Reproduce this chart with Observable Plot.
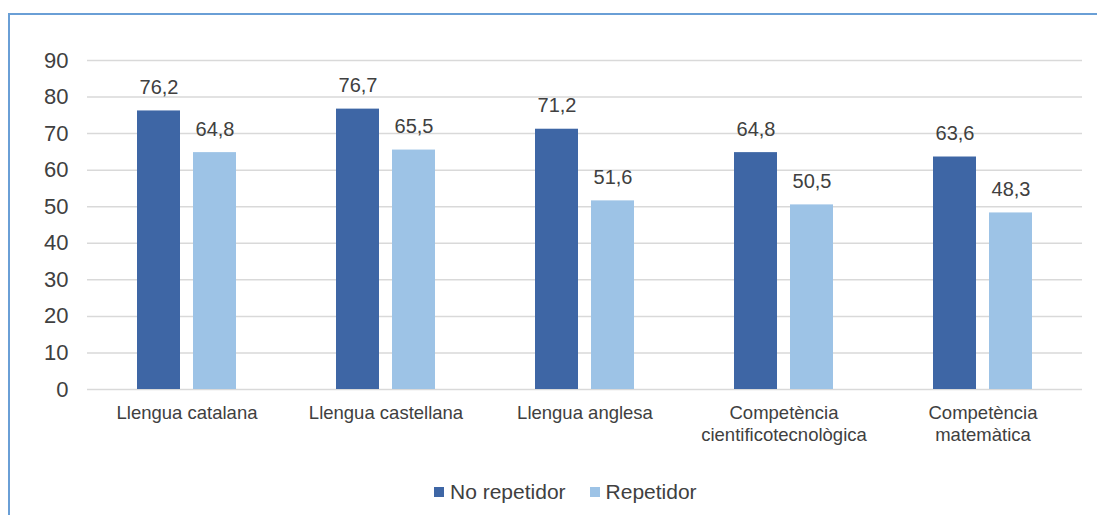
<!DOCTYPE html>
<html>
<head>
<meta charset="utf-8">
<script src="https://cdn.jsdelivr.net/npm/d3@7"></script>
<script src="https://cdn.jsdelivr.net/npm/@observablehq/plot@0.6"></script>
<style>
  html, body { margin: 0; padding: 0; background: #fff; }
  body { width: 1097px; height: 515px; overflow: hidden; position: relative; font-family: "Liberation Sans", Arial, sans-serif; }
  #frame { position: absolute; left: 8px; top: 13px; right: -4px; bottom: -4px; border-left: 2px solid #6a9fd6; border-top: 2px solid #6a9fd6; }
  #chart { position: absolute; left: 0; top: 0; }
  #legend { position: absolute; left: 424px; top: 465px; display: flex; align-items: center; font-size: 21px; color: #404040; white-space: nowrap; }
  .item { display: flex; align-items: center; margin-right: 24px; }
  .sw { width: 10px; height: 10px; margin-right: 6px; }
</style>
</head>
<body>
<div id="frame">
  <div id="chart"></div>
  <div id="legend"></div>
</div>
<script>
const categories = ["Llengua catalana", "Llengua castellana", "Llengua anglesa", "Competència cientificotecnològica", "Competència matemàtica"];
const categoryLabels = ["Llengua catalana", "Llengua castellana", "Llengua anglesa", "Competència\ncientificotecnològica", "Competència\nmatemàtica"];
const series = ["No repetidor", "Repetidor"];
const noRepetidor = [76.2, 76.7, 71.2, 64.8, 63.6];
const repetidor = [64.8, 65.5, 51.6, 50.5, 48.3];
const colors = ["#3e66a5", "#9dc3e6"];
const yTicks = [0, 10, 20, 30, 40, 50, 60, 70, 80, 90];

const data = [];
categories.forEach((c, i) => {
  data.push({cat: c, series: series[0], value: noRepetidor[i]});
  data.push({cat: c, series: series[1], value: repetidor[i]});
});
const labelOf = new Map(categories.map((c, i) => [c, categoryLabels[i]]));
const fmt = v => v.toFixed(1).replace(".", ",");

const chart = Plot.plot({
  width: 1087,
  height: 444,
  marginLeft: 77,
  marginRight: 15,
  marginTop: 45,
  marginBottom: 70,
  style: { fontFamily: "Liberation Sans, Arial, sans-serif", color: "#404040", background: "transparent" },
  fx: { domain: categories, padding: 0, label: null, axis: null },
  x: { domain: series, paddingInner: 0.228, paddingOuter: 0.86, axis: null },
  y: { domain: [0, 90], ticks: yTicks, label: null },
  color: { domain: series, range: colors },
  marks: [
    Plot.gridY(yTicks, { stroke: "#d9d9d9", strokeOpacity: 1, strokeWidth: 1.5 }),
    Plot.axisY(yTicks, { tickSize: 0, tickPadding: 19, fontSize: 22, fill: "#404040", label: null }),
    Plot.axisFx({ anchor: "bottom", tickSize: 0, tickPadding: 14, fontSize: 18.5, lineHeight: 1.2, fill: "#404040", label: null, tickFormat: d => labelOf.get(d) }),
    Plot.barY(data, { fx: "cat", x: "series", y: "value", fill: "series" }),
    Plot.text(data, { fx: "cat", x: "series", y: "value", text: d => fmt(d.value), lineAnchor: "bottom", dy: -17, fontSize: 20, fill: "#404040" })
  ]
});
document.getElementById("chart").appendChild(chart);

const legend = document.getElementById("legend");
series.forEach((s, i) => {
  const item = document.createElement("div");
  item.className = "item";
  const sw = document.createElement("div");
  sw.className = "sw";
  sw.style.background = colors[i];
  const t = document.createElement("span");
  t.textContent = s;
  item.appendChild(sw);
  item.appendChild(t);
  legend.appendChild(item);
});
</script>
</body>
</html>
